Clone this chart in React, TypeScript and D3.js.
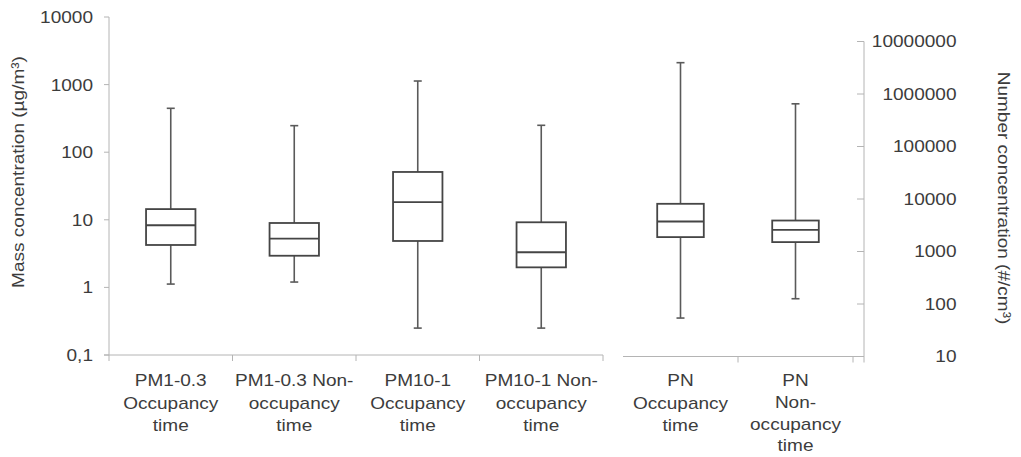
import React from "react";
import * as d3 from "d3";

// ---- data ----
const massCategories: string[][] = [
  ["PM1-0.3", "Occupancy", "time"],
  ["PM1-0.3 Non-", "occupancy", "time"],
  ["PM10-1", "Occupancy", "time"],
  ["PM10-1 Non-", "occupancy", "time"],
];
const massMin = [1.12, 1.2, 0.25, 0.25];
const massQ1 = [4.24, 2.94, 4.86, 1.98];
const massMedian = [8.3, 5.25, 18.2, 3.31];
const massQ3 = [14.4, 8.97, 51, 9.19];
const massMax = [446, 247, 1130, 250];

const pnCategories: string[][] = [
  ["PN", "Occupancy", "time"],
  ["PN", "Non-", "occupancy", "time"],
];
const pnMin = [54, 126];
const pnQ1 = [1880, 1510];
const pnMedian = [3730, 2590];
const pnQ3 = [8100, 3890];
const pnMax = [3950000, 650000];

const massTickValues = [0.1, 1, 10, 100, 1000, 10000];
const massTickLabels = ["0,1", "1", "10", "100", "1000", "10000"];
const pnTickValues = [10, 100, 1000, 10000, 100000, 1000000, 10000000];
const pnTickLabels = ["10", "100", "1000", "10000", "100000", "1000000", "10000000"];

const massTitle = "Mass concentration (µg/m³)";
const pnTitle = "Number concentration (#/cm³)";

// ---- layout ----
const W = 1021;
const H = 457;
const FONT = "'Liberation Sans', Arial, sans-serif";
const FS = 17;
const SX = 1.12;
const TEXT = "#3c3c3c";
const AXIS = "#b4b4b4";
const BOX = "#454545";
const WHISK = "#5a5a5a";

const yMass = d3.scaleLog().domain([0.1, 10000]).range([355, 17]);
const yPn = d3.scaleLog().domain([10, 10000000]).range([356.5, 41.5]);
const xMass = d3.scaleBand<number>().domain(d3.range(massCategories.length)).range([109, 603]);
const xPn = d3.scaleBand<number>().domain(d3.range(pnCategories.length)).range([623, 853]);

type Stat = { min: number; q1: number; med: number; q3: number; max: number };

function Box({ cx, w, s, y }: { cx: number; w: number; s: Stat; y: (v: number) => number }) {
  const cap = 8;
  return (
    <g>
      <line x1={cx} x2={cx} y1={y(s.max)} y2={y(s.q3)} stroke={WHISK} strokeWidth={1.6} />
      <line x1={cx} x2={cx} y1={y(s.q1)} y2={y(s.min)} stroke={WHISK} strokeWidth={1.6} />
      <line x1={cx - cap / 2} x2={cx + cap / 2} y1={y(s.max)} y2={y(s.max)} stroke={WHISK} strokeWidth={1.6} />
      <line x1={cx - cap / 2} x2={cx + cap / 2} y1={y(s.min)} y2={y(s.min)} stroke={WHISK} strokeWidth={1.6} />
      <rect x={cx - w / 2} y={y(s.q3)} width={w} height={y(s.q1) - y(s.q3)} fill="white" stroke={BOX} strokeWidth={1.8} />
      <line x1={cx - w / 2} x2={cx + w / 2} y1={y(s.med)} y2={y(s.med)} stroke={BOX} strokeWidth={1.8} />
    </g>
  );
}

function T({ x, y, children, anchor = "middle", rotate = 0, dy = "0.35em" }: any) {
  return (
    <text
      transform={`translate(${x},${y}) rotate(${rotate}) scale(${SX},1)`}
      textAnchor={anchor}
      dy={dy}
      fontFamily={FONT}
      fontSize={FS}
      fill={TEXT}
    >
      {children}
    </text>
  );
}

export default function App() {
  const massStats: Stat[] = massMin.map((_, i) => ({
    min: massMin[i], q1: massQ1[i], med: massMedian[i], q3: massQ3[i], max: massMax[i],
  }));
  const pnStats: Stat[] = pnMin.map((_, i) => ({
    min: pnMin[i], q1: pnQ1[i], med: pnMedian[i], q3: pnQ3[i], max: pnMax[i],
  }));
  const lineH = 22.7;
  const labelTop = 386;

  return (
    <svg width={W} height={H} style={{ position: "absolute", left: 0, top: 0, display: "block", background: "white" }}>
      {/* left axis */}
      <line x1={109} x2={109} y1={yMass(10000)} y2={yMass(0.1)} stroke={AXIS} />
      {massTickValues.map((v, i) => (
        <g key={"lt" + i}>
          <line x1={104} x2={109} y1={yMass(v)} y2={yMass(v)} stroke={AXIS} />
          <T x={93} y={yMass(v)} anchor="end">{massTickLabels[i]}</T>
        </g>
      ))}
      {/* left bottom axis */}
      <line x1={104} x2={603} y1={355} y2={355} stroke={AXIS} />
      {d3.range(massCategories.length + 1).map((i) => {
        const x = 109 + i * xMass.bandwidth();
        return <line key={"lb" + i} x1={x} x2={x} y1={355} y2={361} stroke={AXIS} />;
      })}
      {/* right bottom axis */}
      <line x1={623} x2={864} y1={yPn(10)} y2={yPn(10)} stroke={AXIS} />
      {d3.range(1, pnCategories.length + 1).map((i) => {
        const x = 623 + i * xPn.bandwidth();
        return <line key={"rb" + i} x1={x} x2={x} y1={yPn(10)} y2={yPn(10) + 6} stroke={AXIS} />;
      })}
      {/* right axis */}
      <line x1={864} x2={864} y1={yPn(10000000)} y2={yPn(10) + 6} stroke={AXIS} />
      {pnTickValues.map((v, i) => (
        <g key={"rt" + i}>
          <line x1={857} x2={864} y1={yPn(v)} y2={yPn(v)} stroke={AXIS} />
          <T x={956.5} y={yPn(v)} anchor="end">{pnTickLabels[i]}</T>
        </g>
      ))}

      {/* boxes */}
      {massStats.map((s, i) => (
        <Box key={"mb" + i} cx={xMass(i)! + xMass.bandwidth() / 2} w={xMass.bandwidth() * 0.4} s={s} y={yMass} />
      ))}
      {pnStats.map((s, i) => (
        <Box key={"pb" + i} cx={xPn(i)! + xPn.bandwidth() / 2} w={xPn.bandwidth() * 0.405} s={s} y={yPn} />
      ))}

      {/* category labels */}
      {massCategories.map((lines, i) =>
        lines.map((l, j) => (
          <T key={`ml${i}-${j}`} x={xMass(i)! + xMass.bandwidth() / 2} y={labelTop + j * lineH} dy="0">
            {l}
          </T>
        ))
      )}
      {pnCategories.map((lines, i) => {
        const lh = lines.length > 3 ? 21.8 : lineH;
        return lines.map((l, j) => (
          <T key={`pl${i}-${j}`} x={xPn(i)! + xPn.bandwidth() / 2} y={labelTop + j * lh} dy="0">
            {l}
          </T>
        ));
      })}

      {/* axis titles */}
      <T x={18} y={172} rotate={-90}>{massTitle}</T>
      <T x={1004} y={198} rotate={90}>{pnTitle}</T>
    </svg>
  );
}
